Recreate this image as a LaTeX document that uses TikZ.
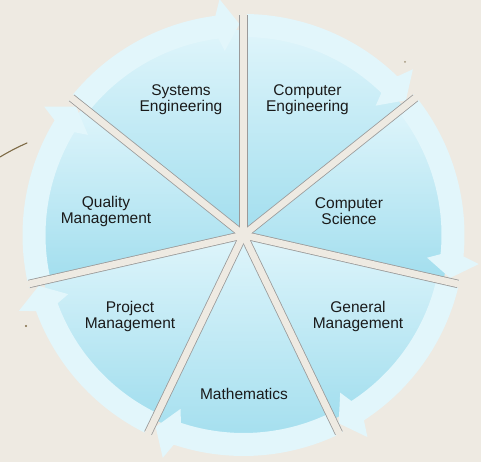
\documentclass[tikz,border=0pt]{standalone}
\usepackage{fontspec}
\setmainfont{Liberation Sans}
\definecolor{paper}{HTML}{EEEAE2}
\definecolor{wtop}{HTML}{DFF5FB}
\definecolor{wbot}{HTML}{A2DEEE}
\definecolor{bandc}{HTML}{E2F6FB}
\definecolor{gapedge}{HTML}{9A9A9A}
\definecolor{scratch}{HTML}{7D6A45}
\definecolor{txt}{HTML}{1A1A1A}
\tikzset{
  lbl/.style={text=txt, align=center, font=\fontsize{15.5}{16}\selectfont, inner sep=0pt},
  wedgefill/.style={top color=wtop, bottom color=wbot},
  bandfill/.style={fill=bandc},
}
\begin{document}
\begin{tikzpicture}[x=1pt,y=1pt]
\useasboundingbox (0,0) rectangle (481,462);
\fill[paper] (0,0) rectangle (481,462);
% paper marks
\draw[scratch, line width=1.1, line cap=round] (0,305) .. controls (10,311) and (18,315) .. (27,319);
\fill[scratch] (26,136) circle (1.2);
\fill[scratch!70] (405,400) circle (1);
\begin{scope}[shift={(243.5,227)}]
  \coordinate (C) at (0,0);
  % wedges
  \foreach \k in {0,...,6}{
    \pgfmathsetmacro{\a}{90-\k*360/7}
    \pgfmathsetmacro{\b}{\a-360/7}
    \shade[wedgefill] (0,0) -- (\a:205) arc[start angle=\a, end angle=\b, radius=205] -- cycle;
  }
  % arrow bands
  \foreach \k in {0,...,6}{
    \pgfmathsetmacro{\a}{90-\k*360/7}
    \pgfmathsetmacro{\b}{\a-360/7}
    \pgfmathsetmacro{\ts}{\a+1}
    \pgfmathsetmacro{\he}{\b+7.3}
    \pgfmathsetmacro{\hb}{\b+5.8}
    \pgfmathsetmacro{\ht}{\b+1.1}
    \fill[bandfill] (\ts:221) arc[start angle=\ts, end angle=\he, radius=221]
      -- (\hb:237) -- (\ht:211) -- (\hb:185) -- (\he:198)
      arc[start angle=\he, end angle=\ts, radius=198] -- cycle;
  }
  % gaps
  \foreach \k in {0,...,6}{
    \pgfmathsetmacro{\g}{90-\k*360/7}
    \draw[gapedge, line width=8.4] (0,0) -- (\g:220);
  }
  \foreach \k in {0,...,6}{
    \pgfmathsetmacro{\g}{90-\k*360/7}
    \draw[paper, line width=6.8] (0,0) -- (\g:224);
  }
  \fill[paper] (C) circle (6);
\end{scope}
% labels
\node[lbl] (se) at (181,362) {Systems\\Engineering};
\node[lbl] (ce) at (307.5,362) {Computer\\Engineering};
\node[lbl] (cs) at (349,251) {Computer\\Science};
\node[lbl] (gm) at (358,146) {General\\Management};
\node[lbl] (ma) at (244,68) {Mathematics};
\node[lbl] (pm) at (130,146) {Project\\Management};
\node[lbl] (qm) at (106,251) {Quality\\Management};
\end{tikzpicture}
\end{document}
